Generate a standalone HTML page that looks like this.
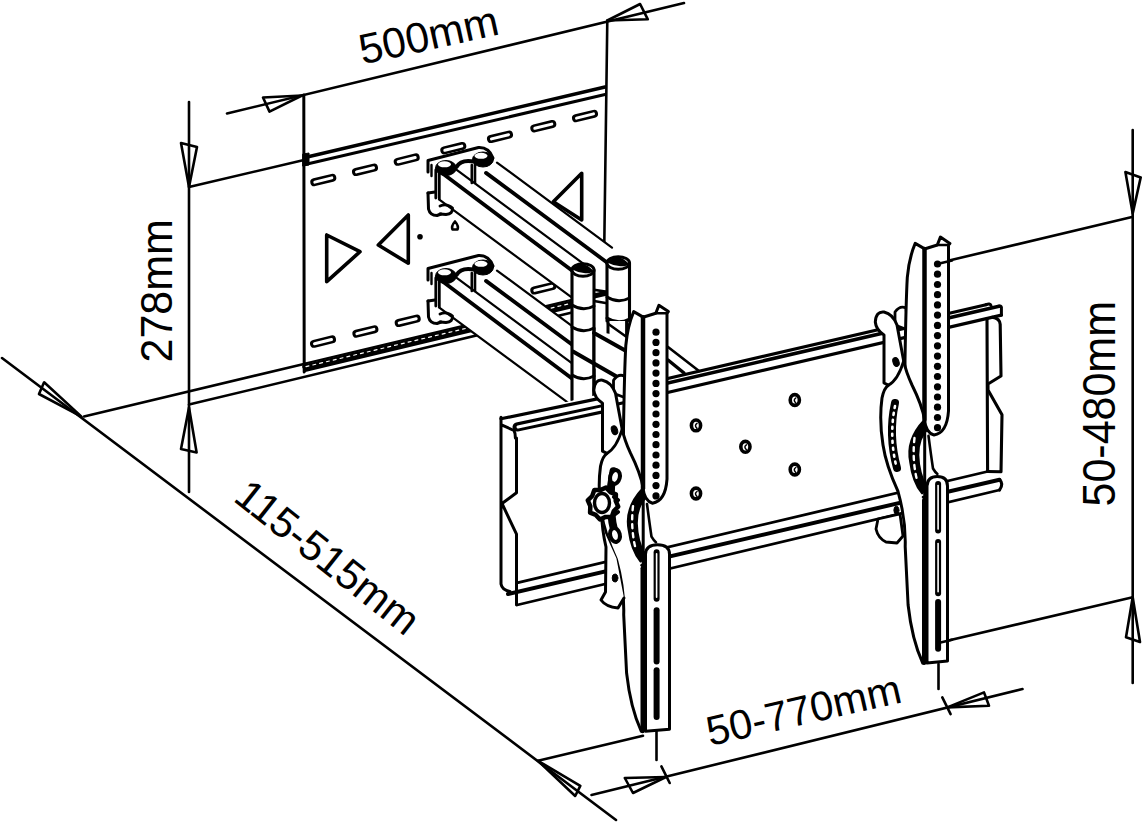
<!DOCTYPE html>
<html><head><meta charset="utf-8">
<style>
html,body{margin:0;padding:0;background:#fff;}
body{width:1142px;height:824px;overflow:hidden;}
svg{display:block;}
text{font-family:"Liberation Sans",sans-serif;font-size:43px;fill:#000;}
</style></head>
<body>
<svg width="1142" height="824" viewBox="0 0 1142 824">
<g fill="none" stroke="#000" stroke-linejoin="round" stroke-linecap="round">
<line x1="227.0" y1="113.5" x2="684.0" y2="3.0" stroke-width="2.6" />
<polygon points="302,95.5 263,97.5 269.5,111.6" stroke-width="2.6"/>
<polygon points="607.3,20.5 640.1,4 647.8,19.3" stroke-width="2.6"/>
<line x1="189.0" y1="102.0" x2="189.0" y2="492.0" stroke-width="2.6" />
<polygon points="189,187 181,143 197,147" stroke-width="2.6"/>
<polygon points="189,407.5 181,449 196.6,452.4" stroke-width="2.6"/>
<line x1="189.0" y1="187.0" x2="304.0" y2="160.0" stroke-width="2.6" />
<line x1="84.0" y1="416.5" x2="305.0" y2="363.7" stroke-width="2.6" />
<line x1="2.0" y1="358.0" x2="616.0" y2="820.0" stroke-width="2.6" />
<polygon points="81.5,416.6 44.1,382.3 39,394" stroke-width="2.6"/>
<polygon points="538,760.8 580.3,785.9 575.2,796" stroke-width="2.6"/>
<line x1="538.0" y1="760.8" x2="643.0" y2="735.8" stroke-width="2.6" />
<line x1="591.5" y1="795.0" x2="1022.5" y2="689.0" stroke-width="2.6" />
<polygon points="666,777 624.8,778 633,793" stroke-width="2.6"/>
<polygon points="947.3,707.4 984,692.4 989,705.8" stroke-width="2.6"/>
<line x1="661.4" y1="766.3" x2="669.7" y2="783.0" stroke-width="2.6" />
<line x1="942.3" y1="697.4" x2="950.6" y2="714.1" stroke-width="2.6" />
<line x1="656.5" y1="715.0" x2="656.5" y2="760.0" stroke-width="2.6" />
<line x1="938.5" y1="664.0" x2="938.5" y2="689.0" stroke-width="2.6" />
<line x1="1132.7" y1="130.0" x2="1132.7" y2="683.0" stroke-width="2.6" />
<polygon points="1132.7,213.5 1125.4,172 1140.7,177.4" stroke-width="2.6"/>
<polygon points="1132.7,597.3 1126,637.3 1140,642" stroke-width="2.6"/>
<line x1="947.0" y1="261.0" x2="1132.0" y2="217.0" stroke-width="2.6" />
<line x1="942.0" y1="642.0" x2="1132.7" y2="597.3" stroke-width="2.6" />
<line x1="303.8" y1="95.0" x2="304.2" y2="372.0" stroke-width="3" />
<line x1="607.3" y1="20.5" x2="604.3" y2="243.0" stroke-width="2.6" />
<line x1="305.0" y1="157.5" x2="605.0" y2="87.0" stroke-width="3.5" />
<line x1="305.0" y1="164.5" x2="605.0" y2="94.5" stroke-width="3" />
<path d="M303,154 L309,153 L309,165 L303,166 Z" fill="#000" stroke-width="1"/>
<line x1="305.0" y1="363.5" x2="571.0" y2="300.0" stroke-width="2.2" />
<line x1="305" y1="366.8" x2="571" y2="303.3" stroke-width="5.5" />
<line x1="306" y1="366.6" x2="571" y2="303.3" stroke="#fff" stroke-width="1.2" stroke-dasharray="3 4"/>
<line x1="305.0" y1="370.5" x2="571.0" y2="307.0" stroke-width="3" />
<line x1="189.0" y1="404.6" x2="571.0" y2="312.7" stroke-width="2.6" />
<line x1="314.3" y1="182.2" x2="332.3" y2="177.8" stroke-width="8"/>
<line x1="356.0" y1="172.0" x2="374.0" y2="167.6" stroke-width="8"/>
<line x1="397.7" y1="161.8" x2="415.7" y2="157.4" stroke-width="8"/>
<line x1="444.3" y1="150.4" x2="462.3" y2="146.0" stroke-width="8"/>
<line x1="491.0" y1="139.0" x2="509.0" y2="134.6" stroke-width="8"/>
<line x1="534.3" y1="128.4" x2="552.3" y2="124.0" stroke-width="8"/>
<line x1="576.0" y1="118.2" x2="594.0" y2="113.8" stroke-width="8"/>
<line x1="314.0" y1="343.8" x2="332.0" y2="339.4" stroke-width="8"/>
<line x1="356.4" y1="333.7" x2="374.4" y2="329.3" stroke-width="8"/>
<line x1="398.7" y1="323.0" x2="416.7" y2="318.6" stroke-width="8"/>
<line x1="534.3" y1="290.5" x2="552.3" y2="286.1" stroke-width="8"/>
<line x1="314.8" y1="182.1" x2="331.8" y2="177.9" stroke="#fff" stroke-width="3"/>
<line x1="356.5" y1="171.9" x2="373.5" y2="167.7" stroke="#fff" stroke-width="3"/>
<line x1="398.2" y1="161.7" x2="415.2" y2="157.5" stroke="#fff" stroke-width="3"/>
<line x1="444.8" y1="150.3" x2="461.8" y2="146.1" stroke="#fff" stroke-width="3"/>
<line x1="491.5" y1="138.9" x2="508.5" y2="134.7" stroke="#fff" stroke-width="3"/>
<line x1="534.8" y1="128.3" x2="551.8" y2="124.1" stroke="#fff" stroke-width="3"/>
<line x1="576.5" y1="118.1" x2="593.5" y2="113.9" stroke="#fff" stroke-width="3"/>
<line x1="314.5" y1="343.7" x2="331.5" y2="339.5" stroke="#fff" stroke-width="3"/>
<line x1="356.9" y1="333.6" x2="373.9" y2="329.4" stroke="#fff" stroke-width="3"/>
<line x1="399.2" y1="322.9" x2="416.2" y2="318.7" stroke="#fff" stroke-width="3"/>
<line x1="534.8" y1="290.4" x2="551.8" y2="286.2" stroke="#fff" stroke-width="3"/>
<polygon points="326.7,235 326.7,281.7 360,251.7" stroke-width="3.6"/>
<polygon points="408.3,215 408.3,263.3 378.3,245" stroke-width="3.6"/>
<polygon points="581.7,173.3 581.7,220 553.3,201.7" stroke-width="3.6"/>
<circle cx="420" cy="236.7" r="2.8" fill="#000" stroke="none"/>
<path d="M455,221.5 Q451,226 452.5,229.5 L457.5,229.5 Q459,226 455,221.5 Z" stroke-width="2.6"/>
<polygon fill="#fff" stroke="none" points="427,159 480,146 497,162.6 612,247.7 630,256 630,330 572,298 439,199.5 427,209"/>
<line x1="497.0" y1="162.6" x2="612.0" y2="247.7" stroke-width="2.2" />
<line x1="486.0" y1="172.9" x2="608.0" y2="263.2" stroke-width="3.8" />
<line x1="453.0" y1="167.2" x2="590.0" y2="268.6" stroke-width="2.2" />
<line x1="440.0" y1="171.6" x2="574.0" y2="272.1" stroke-width="3.8" />
<line x1="439.0" y1="199.3" x2="572.0" y2="297.7" stroke-width="2.2" />
<path d="M428,172 L428,160.5 L478.5,147.5 Q489,147 493,158" stroke-width="3"/>
<path d="M431.5,165 L431.5,176" stroke-width="2.4"/>
<path d="M435.8,170 L435.8,198 M439.3,172 L439.3,199" stroke-width="2.8"/>
<path d="M428,193 L428.5,209 Q430,215.5 437,215.5 L441,214" stroke-width="3"/>
<path d="M428,193 L435,192" stroke-width="3"/>
<path d="M440,206 Q447,203 452.5,208 Q453,214 446,214.5 L440,214" stroke-width="2.9"/>
<path d="M471.8,165 L471.8,183 M475,163 L475,183" stroke-width="2.6"/>
<path d="M456.5,167 Q461,159 474,161.5" stroke-width="4"/>
<ellipse cx="446" cy="168" rx="10.5" ry="7.5" fill="#000" stroke-width="1"/>
<ellipse cx="444.5" cy="164.3" rx="6.5" ry="3" fill="#fff" stroke="none"/>
<ellipse cx="483" cy="159.5" rx="10.5" ry="7.5" fill="#000" stroke-width="1"/>
<ellipse cx="481" cy="155.8" rx="6.5" ry="3" fill="#fff" stroke="none"/>
<polygon fill="#fff" stroke="none" points="427,267 480,254 497,270.6 612,355.7 630,364 630,438 572,406 439,307.5 427,317"/>
<line x1="497.0" y1="270.6" x2="612.0" y2="355.7" stroke-width="2.2" />
<line x1="486.0" y1="280.9" x2="608.0" y2="371.2" stroke-width="3.8" />
<line x1="453.0" y1="275.2" x2="590.0" y2="376.6" stroke-width="2.2" />
<line x1="440.0" y1="279.6" x2="574.0" y2="380.1" stroke-width="3.8" />
<line x1="439.0" y1="307.3" x2="572.0" y2="405.7" stroke-width="2.2" />
<path d="M428,280 L428,268.5 L478.5,255.5 Q489,255 493,266" stroke-width="3"/>
<path d="M431.5,273 L431.5,284" stroke-width="2.4"/>
<path d="M435.8,278 L435.8,306 M439.3,280 L439.3,307" stroke-width="2.8"/>
<path d="M428,301 L428.5,317 Q430,323.5 437,323.5 L441,322" stroke-width="3"/>
<path d="M428,301 L435,300" stroke-width="3"/>
<path d="M440,314 Q447,311 452.5,316 Q453,322 446,322.5 L440,322" stroke-width="2.9"/>
<path d="M471.8,273 L471.8,291 M475,271 L475,291" stroke-width="2.6"/>
<path d="M456.5,275 Q461,267 474,269.5" stroke-width="4"/>
<ellipse cx="446" cy="276" rx="10.5" ry="7.5" fill="#000" stroke-width="1"/>
<ellipse cx="444.5" cy="272.3" rx="6.5" ry="3" fill="#fff" stroke="none"/>
<ellipse cx="483" cy="267.5" rx="10.5" ry="7.5" fill="#000" stroke-width="1"/>
<ellipse cx="481" cy="263.8" rx="6.5" ry="3" fill="#fff" stroke="none"/>
<polygon fill="#fff" stroke="none" points="594,286 607,283 607,335 594,335"/>
<line x1="594.0" y1="289.8" x2="607.0" y2="291.9" stroke-width="2.6" />
<line x1="594" y1="296" x2="607" y2="293" stroke-width="5"/>
<line x1="594.0" y1="301.0" x2="607.0" y2="303.2" stroke-width="2.6" />
<path d="M607,263 L607,321 L629.5,321 L629.5,263 Z" fill="#fff" stroke="none"/>
<path d="M607,263 L607,321 M629.5,263 L629.5,321" stroke-width="3.1"/>
<ellipse cx="618.25" cy="263" rx="11.25" ry="6.3" stroke-width="3" fill="#fff"/>
<path d="M609,262 Q618.25,254 627.5,264 Q618.25,267 609,262 Z" fill="#000" stroke-width="2.4"/>
<path d="M607,297 Q618.25,304 629.5,298" stroke-width="3"/>
<path d="M607,318 Q618.25,325 629.5,319" stroke-width="3"/>
<polygon fill="#fff" stroke="none" points="608,321 627,321 627,346 608,346"/>
<path d="M608,321 L608,346 M626.6,321 L626.6,346" stroke-width="3"/>
<path d="M572,270 L572,400 L594,400 L594,270 Z" fill="#fff" stroke="none"/>
<path d="M572,270 L572,400 M594,270 L594,400" stroke-width="3.1"/>
<ellipse cx="583.0" cy="270" rx="11.0" ry="6.3" stroke-width="3" fill="#fff"/>
<path d="M574,269 Q583.0,261 592,271 Q583.0,274 574,269 Z" fill="#000" stroke-width="2.4"/>
<path d="M572,305 Q583.0,312 594,306" stroke-width="3"/>
<path d="M572,327 Q583.0,334 594,328" stroke-width="3"/>
<path d="M572,375 Q583.0,382 594,376" stroke-width="3"/>
<polygon fill="#fff" stroke="none" points="594,331 627,337 627,383 594,368"/>
<line x1="608.0" y1="323.8" x2="627.0" y2="337.2" stroke-width="2.6" />
<line x1="594.0" y1="333.0" x2="627.0" y2="351.6" stroke-width="4" />
<line x1="573.0" y1="351.6" x2="627.0" y2="382.6" stroke-width="4" />
<path d="M594,329 L594,400" stroke-width="3.1"/>
</g>
<g fill="none" stroke="#000" stroke-linejoin="round" stroke-linecap="round">
<polygon fill="#fff" stroke="none" points="501,417.208 1001,301.20799999999997 1002,492.17600000000004 501,610.408"/>
<line x1="600.0" y1="394.2" x2="986.0" y2="304.7" stroke-width="3.2" />
<path d="M986,304.7 Q990,302.8 991,305.5" stroke-width="3"/>
<line x1="603.0" y1="398.0" x2="999.0" y2="306.2" stroke-width="3.5" />
<path d="M999,306.2 Q1002,305.5 1001.4,308.7 L1001.4,315.1" stroke-width="3"/>
<line x1="604.0" y1="407.3" x2="1001.4" y2="315.1" stroke-width="3.2" />
<line x1="501.0" y1="418.8" x2="599.8" y2="398.4" stroke-width="3.2" />
<path d="M599.8,398.4 Q604.5,399 604.2,404 L604.2,423" stroke-width="3"/>
<line x1="517.0" y1="427.0" x2="602.0" y2="409.0" stroke-width="9" />
<line x1="518.0" y1="427.0" x2="601.0" y2="409.0" stroke-width="3" stroke="#fff"/>
<line x1="517.0" y1="582.9" x2="987.6" y2="471.5" stroke-width="2.8" />
<line x1="508.0" y1="594.0" x2="999.5" y2="479.7" stroke-width="4" />
<line x1="517.0" y1="605.0" x2="999.5" y2="490.0" stroke-width="2.8" />
<path d="M501,417.2 L501,584 Q502,590 510,591.5 M501,424.7 L514,430.5 Q515.4,433 515.4,438 M516.5,438 L516.5,492.8 L502,503.5 L516.5,534.2 L516.5,604.8" stroke-width="3"/>
<path d="M987,318.5 L987.6,471.5" stroke-width="3.1"/>
<path d="M992.3,317.2 Q1000,318.4 1000.2,324.4 L1001,376 L988,384 L988,390 L1002,414.7 L1001,471.7 L987.6,471.5" stroke-width="3.1"/>
<path d="M999.5,479.7 Q1004,484 999.5,490" stroke-width="3.1"/>
<ellipse cx="696" cy="425.4" rx="4.6" ry="5.4" stroke-width="3.6"/>
<path d="M697,423.4 Q694,425.4 697,428.4" stroke-width="1.5"/>
<ellipse cx="794.8" cy="400" rx="4.6" ry="5.4" stroke-width="3.6"/>
<path d="M795.8,398 Q792.8,400 795.8,403" stroke-width="1.5"/>
<ellipse cx="745.4" cy="446.8" rx="4.6" ry="5.4" stroke-width="3.6"/>
<path d="M746.4,444.8 Q743.4,446.8 746.4,449.8" stroke-width="1.5"/>
<ellipse cx="794.8" cy="469.5" rx="4.6" ry="5.4" stroke-width="3.6"/>
<path d="M795.8,467.5 Q792.8,469.5 795.8,472.5" stroke-width="1.5"/>
<ellipse cx="696" cy="493.5" rx="4.6" ry="5.4" stroke-width="3.6"/>
<path d="M697,491.5 Q694,493.5 697,496.5" stroke-width="1.5"/>
<line x1="668.0" y1="347.0" x2="699.0" y2="371.0" stroke-width="2.6" />
<line x1="668.0" y1="360.0" x2="684.0" y2="373.0" stroke-width="3.5" />
</g>
<g fill="#fff" stroke="#000" stroke-linejoin="round" stroke-linecap="round">
<path d="M613.5,393.2 L613.5,380.2 Q618.5,373.2 624.5,376.2 L626.5,398.2 Z" stroke-width="2.8"/>
<path d="M633.7,311.6 L643.2,317.1 L643.2,488.2 L623.5,488.2 L623.5,428.2 Q624.5,368.2 625.8,345.5 Q627.5,326.2 633.7,311.6 Z" stroke-width="3"/>
<path d="M593.8,390.2 Q594.5,379.2 602.5,380.2 Q611.5,382.2 615.5,393.2 L622.2,429.2 Q624.5,440.2 630.5,453.2 Q640.5,473.2 643.2,488.2 L643.2,731.2 L641.2,731.2 Q630.5,708.2 626.6,673.2 L623.7,614.8 Q624.5,588.2 616.4,559.4 Q604.5,533.2 601.5,513.2 Q597.5,488.2 600.5,466.2 Q602.5,456.2 606.9,453.4 L602.5,451.2 L602.5,403.2 Q594.5,398.2 593.8,390.2 Z" stroke-width="3"/>
<path d="M622.2,429.2 Q616.5,448.2 606.9,453.4" fill="none" stroke-width="2.8"/>
<ellipse cx="614.5" cy="430.2" rx="3" ry="4.5" transform="rotate(-20 614.5 430.2)" fill="#000" stroke-width="1"/>
<path d="M613.5,471.2 Q606.5,503.2 615.5,536.2" fill="none" stroke-width="8"/>
<path d="M613.5,474.2 Q607.5,503.2 614.5,533.2" fill="none" stroke="#fff" stroke-width="2.6" stroke-dasharray="2 5"/>
<path d="M642.8,488.7 Q624.5,508.2 629.0,530.2 Q631.5,550.2 640.6,561.2 L645.0,556.2 Q637.0,541.2 636.5,523.2 Q636.5,505.2 647.0,496.2 Z" fill="#000" stroke-width="2.6"/>
<path d="M633.0,506.2 Q630.5,528.2 635.5,548.2" fill="none" stroke="#fff" stroke-width="2.4" stroke-dasharray="4 5"/>
<path d="M647.0,504.0 Q649.5,523.2 651.5,536.7 Q653.5,540.2 655.9,542.2" fill="none" stroke-width="2.6"/>
<path d="M641.5,565.2 Q645.5,568.2 647.5,574.2" fill="none" stroke-width="2.6"/>
<path d="M643.0,317.2 L655.8,313.2 L658.9,305.3 L668.4,311.6 L667.0,313.2 L667.0,479.2 Q665.5,501.2 652.5,503.2 Q644.5,501.2 643.0,488.2 Z" stroke-width="3"/>
<path d="M655.8,313.2 L667.0,313.2" fill="none" stroke-width="2.6"/>
<path d="M645.5,731.2 L645.5,554.2 Q646.0,544.8 657.5,544.8 Q669.5,544.8 669.5,554.2 L669.5,729.2 L645.5,731.2 Z" stroke-width="3"/>
<line x1="643.0" y1="317.2" x2="643.0" y2="488.2" stroke-width="4.5"/>
<line x1="642.5" y1="568.2" x2="642.5" y2="731.2" stroke-width="4"/>
<g fill="#000" stroke="none"><circle cx="656.0" cy="332.2" r="3.6"/><circle cx="656.0" cy="342.4" r="3.6"/><circle cx="656.0" cy="352.7" r="3.6"/><circle cx="656.0" cy="362.9" r="3.6"/><circle cx="656.0" cy="373.1" r="3.6"/><circle cx="656.0" cy="383.4" r="3.6"/><circle cx="656.0" cy="393.6" r="3.6"/><circle cx="656.0" cy="403.8" r="3.6"/><circle cx="656.0" cy="414.0" r="3.6"/><circle cx="656.0" cy="424.3" r="3.6"/><circle cx="656.0" cy="434.5" r="3.6"/><circle cx="656.0" cy="444.7" r="3.6"/><circle cx="656.0" cy="455.0" r="3.6"/><circle cx="656.0" cy="465.2" r="3.6"/><circle cx="656.0" cy="475.4" r="3.6"/><circle cx="656.0" cy="485.6" r="3.6"/><circle cx="656.0" cy="495.9" r="3.6"/></g>
<path d="M656.6,552.2 L656.6,598.8" stroke-width="6"/>
<path d="M656.6,553.7 L656.6,597.3" stroke="#fff" stroke-width="1.6"/>
<path d="M656.6,610.2 L656.6,661.5" stroke-width="6"/>
<path d="M656.6,670.2 L656.6,716.9" stroke-width="6"/>
<polygon fill="#fff" stroke="none" points="601.5,512 604.5,532 616.4,558.2 624,598 618,608 601,600 605.5,592 606,547"/>
<path d="M601.5,512 Q602,530 606,547 L605.5,592 L601,600 Q606,607 618,608 L624,598" fill="none" stroke-width="3"/>
<ellipse cx="615" cy="578" rx="2.8" ry="4" fill="#000" stroke-width="1"/>
<ellipse cx="615" cy="477" rx="4.8" ry="7" stroke-width="4" fill="#fff" transform="rotate(15 615 477)"/>
<ellipse cx="615" cy="535" rx="4.8" ry="7" stroke-width="4" fill="#fff" transform="rotate(-15 615 535)"/>
<path d="M613,484 L611,494 M611,518 L613,527" stroke-width="5"/>
<polygon points="618.2,506.6 613.8,511.0 611.7,517.0 605.6,516.9 600.0,519.5 595.8,514.9 590.1,512.6 590.3,506.2 587.8,500.4 592.2,496.0 594.3,490.0 600.4,490.1 606.0,487.5 610.2,492.1 615.9,494.4 615.7,500.8" stroke-width="4.5" fill="#fff"/>
<ellipse cx="602" cy="503" rx="7.5" ry="9.5" stroke-width="3.4" fill="#fff"/>
<path d="M614,497 L618,500 M614,515 L618,512" stroke-width="4"/>
<path d="M895.0,325.0 L895.0,312.0 Q900.0,305.0 906.0,308.0 L908.0,330.0 Z" stroke-width="2.8"/>
<path d="M915.2,243.4 L924.7,248.9 L924.7,420.0 L905.0,420.0 L905.0,360.0 Q906.0,300.0 907.3,277.3 Q909.0,258.0 915.2,243.4 Z" stroke-width="3"/>
<path d="M875.3,322.0 Q876.0,311.0 884.0,312.0 Q893.0,314.0 897.0,325.0 L903.7,361.0 Q906.0,372.0 912.0,385.0 Q922.0,405.0 924.7,420.0 L924.7,663.0 L922.7,663.0 Q912.0,640.0 908.1,605.0 L905.2,546.6 Q906.0,520.0 897.9,491.2 Q886.0,465.0 883.0,445.0 Q879.0,420.0 882.0,398.0 Q884.0,388.0 888.4,385.2 L884.0,383.0 L884.0,335.0 Q876.0,330.0 875.3,322.0 Z" stroke-width="3"/>
<path d="M903.7,361.0 Q898.0,380.0 888.4,385.2" fill="none" stroke-width="2.8"/>
<ellipse cx="896.0" cy="362.0" rx="3" ry="4.5" transform="rotate(-20 896.0 362.0)" fill="#000" stroke-width="1"/>
<path d="M895.0,403.0 Q888.0,435.0 897.0,468.0" fill="none" stroke-width="8"/>
<path d="M895.0,406.0 Q889.0,435.0 896.0,465.0" fill="none" stroke="#fff" stroke-width="2.6" stroke-dasharray="2 5"/>
<path d="M878.0,519.0 L876.0,529.0 Q878.0,538.0 886.0,542.0 L897.0,543.0 L903.0,536.0 L900.0,514.0 Z" stroke-width="2.8"/>
<ellipse cx="896.4" cy="510.2" rx="2.5" ry="4" fill="#000" stroke-width="1"/>
<path d="M924.3,420.5 Q906.0,440.0 910.5,462.0 Q913.0,482.0 922.1,493.0 L926.5,488.0 Q918.5,473.0 918.0,455.0 Q918.0,437.0 928.5,428.0 Z" fill="#000" stroke-width="2.6"/>
<path d="M914.5,438.0 Q912.0,460.0 917.0,480.0" fill="none" stroke="#fff" stroke-width="2.4" stroke-dasharray="4 5"/>
<path d="M928.5,435.8 Q931.0,455.0 933.0,468.5 Q935.0,472.0 937.4,474.0" fill="none" stroke-width="2.6"/>
<path d="M923.0,497.0 Q927.0,500.0 929.0,506.0" fill="none" stroke-width="2.6"/>
<path d="M924.5,249.0 L937.3,245.0 L940.4,237.1 L949.9,243.4 L948.5,245.0 L948.5,411.0 Q947.0,433.0 934.0,435.0 Q926.0,433.0 924.5,420.0 Z" stroke-width="3"/>
<path d="M937.3,245.0 L948.5,245.0" fill="none" stroke-width="2.6"/>
<path d="M927.0,663.0 L927.0,486.0 Q927.5,476.6 937.2,476.6 Q947.5,476.6 947.5,486.0 L947.5,661.0 L927.0,663.0 Z" stroke-width="3"/>
<line x1="924.5" y1="249.0" x2="924.5" y2="420.0" stroke-width="4.5"/>
<line x1="924.0" y1="500.0" x2="924.0" y2="663.0" stroke-width="4"/>
<g fill="#000" stroke="none"><circle cx="937.5" cy="264.0" r="3.6"/><circle cx="937.5" cy="274.2" r="3.6"/><circle cx="937.5" cy="284.5" r="3.6"/><circle cx="937.5" cy="294.7" r="3.6"/><circle cx="937.5" cy="304.9" r="3.6"/><circle cx="937.5" cy="315.1" r="3.6"/><circle cx="937.5" cy="325.4" r="3.6"/><circle cx="937.5" cy="335.6" r="3.6"/><circle cx="937.5" cy="345.8" r="3.6"/><circle cx="937.5" cy="356.1" r="3.6"/><circle cx="937.5" cy="366.3" r="3.6"/><circle cx="937.5" cy="376.5" r="3.6"/><circle cx="937.5" cy="386.8" r="3.6"/><circle cx="937.5" cy="397.0" r="3.6"/><circle cx="937.5" cy="407.2" r="3.6"/><circle cx="937.5" cy="417.5" r="3.6"/><circle cx="937.5" cy="427.7" r="3.6"/></g>
<path d="M938.1,484.0 L938.1,530.6" stroke-width="6"/>
<path d="M938.1,485.5 L938.1,529.1" stroke="#fff" stroke-width="1.6"/>
<path d="M938.1,542.0 L938.1,593.3" stroke-width="6"/>
<path d="M938.1,543.5 L938.1,591.8" stroke="#fff" stroke-width="1.6"/>
<path d="M938.1,602.0 L938.1,648.7" stroke-width="6"/>
<line x1="937.3" y1="264.0" x2="952.0" y2="260.5" stroke-width="2.6" />
<line x1="938.5" y1="643.0" x2="952.0" y2="639.7" stroke-width="2.6" />
</g>
<text transform="translate(362.5,64.5) rotate(-12.3)" style="font-size:42.5px">500mm</text>
<text transform="translate(171.5,362.5) rotate(-90) scale(1,1.05)">278mm</text>
<text transform="translate(232,500) rotate(38.3)" style="font-size:42px">115-515mm</text>
<text transform="translate(710,746) rotate(-12.8)" style="font-size:41.5px">50-770mm</text>
<text transform="translate(1114.5,506.5) rotate(-90) scale(1,1.07)">50-480mm</text>
</svg>
</body></html>
